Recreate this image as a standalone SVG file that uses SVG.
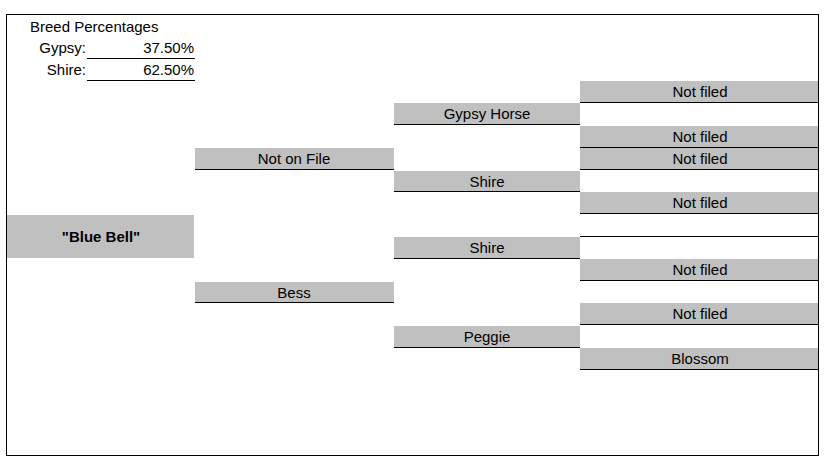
<svg xmlns="http://www.w3.org/2000/svg" width="828" height="464" viewBox="0 0 828 464">
<style>
text{font-family:"Liberation Sans",Arial,sans-serif;font-size:15px;fill:#000}
.c{text-anchor:middle}
.r{text-anchor:end}
.box{fill:#c0c0c0}
.ul{stroke:#000;stroke-width:1.2}
</style>
<rect x="0" y="0" width="828" height="464" fill="#fff"/>
<rect x="6.5" y="14.5" width="812" height="441" fill="none" stroke="#000" stroke-width="1"/>
<g id="breed">
<text x="30" y="32">Breed Percentages</text>
<text x="86" y="53" class="r">Gypsy:</text>
<text x="194" y="53" class="r">37.50%</text>
<line x1="87" y1="58.5" x2="195" y2="58.5" class="ul"/>
<text x="86" y="75" class="r">Shire:</text>
<text x="194" y="75" class="r">62.50%</text>
<line x1="87" y1="80.5" x2="195" y2="80.5" class="ul"/>
</g>
<g id="n-bluebell"><rect x="7" y="215" width="187" height="43" class="box"/><text x="101" y="242" class="c" style="font-weight:bold">"Blue Bell"</text></g>
<g id="n-notonfile"><rect x="195" y="148" width="199" height="21" class="box"/><line x1="195" y1="169.5" x2="394" y2="169.5" class="ul"/><text x="294" y="164" class="c">Not on File</text></g>
<g id="n-bess"><rect x="195" y="282" width="199" height="20" class="box"/><line x1="195" y1="302.5" x2="394" y2="302.5" class="ul"/><text x="294" y="298" class="c">Bess</text></g>
<g id="n-gypsyhorse"><rect x="394" y="103" width="186" height="21" class="box"/><line x1="394" y1="124.5" x2="580" y2="124.5" class="ul"/><text x="487" y="119" class="c">Gypsy Horse</text></g>
<g id="n-shire1"><rect x="394" y="171" width="186" height="20" class="box"/><line x1="394" y1="191.5" x2="580" y2="191.5" class="ul"/><text x="487" y="187" class="c">Shire</text></g>
<g id="n-shire2"><rect x="394" y="237" width="186" height="21" class="box"/><line x1="394" y1="258.5" x2="580" y2="258.5" class="ul"/><text x="487" y="253" class="c">Shire</text></g>
<g id="n-peggie"><rect x="394" y="326" width="186" height="21" class="box"/><line x1="394" y1="347.5" x2="580" y2="347.5" class="ul"/><text x="487" y="342" class="c">Peggie</text></g>
<g id="n-g3-1"><rect x="580" y="81" width="238" height="21" class="box"/><line x1="580" y1="102.5" x2="818" y2="102.5" class="ul"/><text x="700" y="97" class="c">Not filed</text></g>
<g id="n-g3-2"><rect x="580" y="126" width="238" height="21" class="box"/><line x1="580" y1="147.5" x2="818" y2="147.5" class="ul"/><text x="700" y="142" class="c">Not filed</text></g>
<g id="n-g3-3"><rect x="580" y="148" width="238" height="21" class="box"/><line x1="580" y1="169.5" x2="818" y2="169.5" class="ul"/><text x="700" y="164" class="c">Not filed</text></g>
<g id="n-g3-4"><rect x="580" y="192" width="238" height="21" class="box"/><line x1="580" y1="213.5" x2="818" y2="213.5" class="ul"/><text x="700" y="208" class="c">Not filed</text></g>
<g id="n-g3-5"><line x1="580" y1="236.5" x2="818" y2="236.5" class="ul"/></g>
<g id="n-g3-6"><rect x="580" y="259" width="238" height="21" class="box"/><line x1="580" y1="280.5" x2="818" y2="280.5" class="ul"/><text x="700" y="275" class="c">Not filed</text></g>
<g id="n-g3-7"><rect x="580" y="303" width="238" height="21" class="box"/><line x1="580" y1="324.5" x2="818" y2="324.5" class="ul"/><text x="700" y="319" class="c">Not filed</text></g>
<g id="n-g3-8"><rect x="580" y="348" width="238" height="21" class="box"/><line x1="580" y1="369.5" x2="818" y2="369.5" class="ul"/><text x="700" y="364" class="c">Blossom</text></g>
<g id="connectors"></g>
</svg>
